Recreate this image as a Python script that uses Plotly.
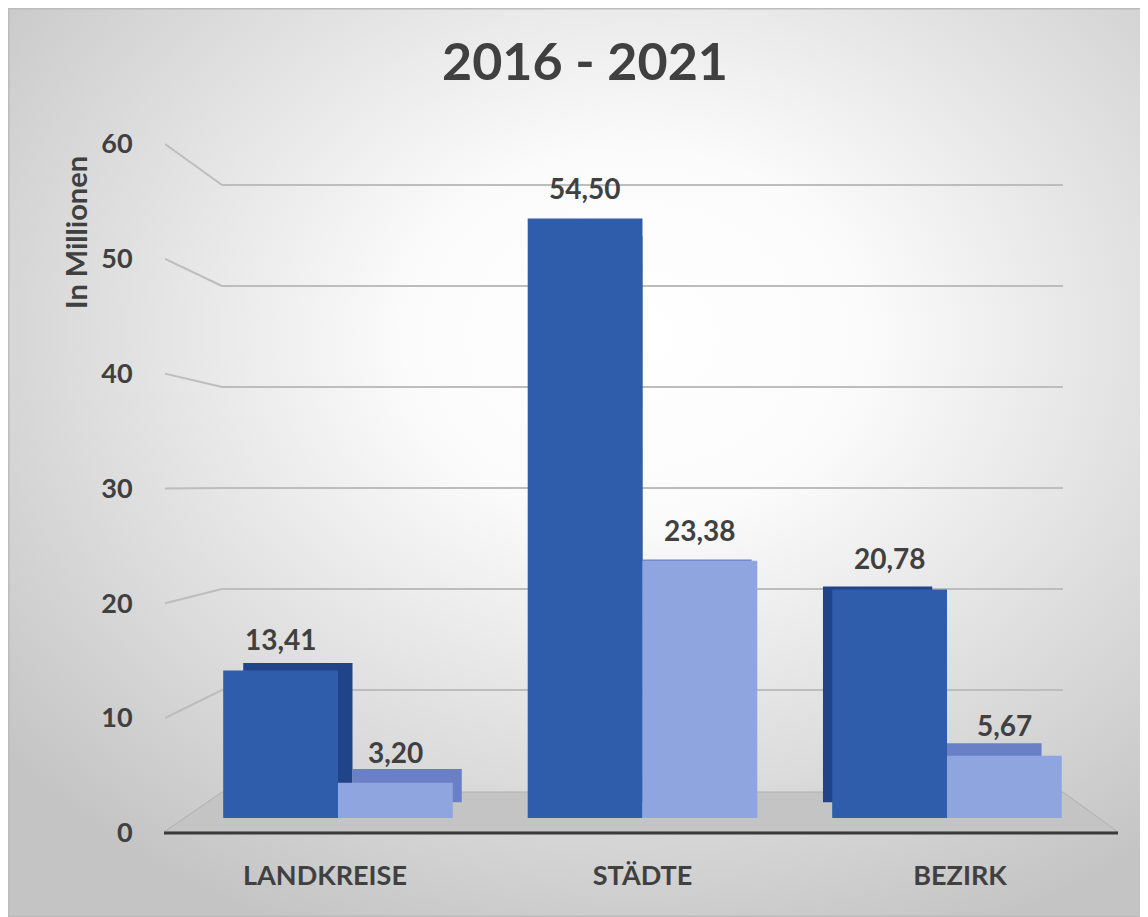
import base64
import plotly.graph_objects as go

# ---------------- data ----------------
CATEGORIES = ["LANDKREISE", "STÄDTE", "BEZIRK"]
SERIES_NAMES = ["Reihe 1", "Reihe 2"]
VALUES_DARK = [13.41, 54.50, 20.78]
VALUES_LIGHT = [3.20, 23.38, 5.67]
Y_TICKS = [0, 10, 20, 30, 40, 50, 60]
TITLE = "2016 - 2021"
Y_TITLE = "In Millionen"

# ---------------- geometry (page pixels) ----------------
OFF = 8                      # page body margin
W, H = 1140, 909             # figure size
PL, PR, PT, PB = 186, 1100, 140, 840          # plot area in page px
FONT = "Lato"
TXT = "#404040"
DARK_FRONT, DARK_BACK = "#2f5cab", "#21438a"
LIGHT_FRONT, LIGHT_BACK = "#8ea5e0", "#6a80c6"
BARGAP = 0.246


def px_x(px):
    return (px - PL) / (PR - PL)


def px_y(py):
    return (PB - py) / (PB - PT)


def val_range(zero_px, ppu):
    return [(zero_px - PB) / ppu, (zero_px - PT) / ppu]


def cat_range(c0_px, ppc):
    return [(PL - c0_px) / ppc, (PR - c0_px) / ppc]


# perspective: back faces scaled around vanishing x
VX, K = 640.0, 0.952
FRONT_C0, FRONT_PPC = 338.0, 304.5
BACK_C0, BACK_PPC = VX + (FRONT_C0 - VX) * K, FRONT_PPC * K
LABEL_C0, LABEL_PPC = 325.0, 317.5

FRONT_Y = (818.0, 11.0)      # zero px, px per unit
BACK_Y = (802.2, 10.38)
TICK_Y = (832.8, 11.48)
WALL_Y = (791.0, 10.1)

fig = go.Figure()

# back (top / side) faces
fig.add_trace(go.Bar(x=CATEGORIES, y=VALUES_DARK, name=SERIES_NAMES[0],
                     marker=dict(color=DARK_BACK, line=dict(width=0)),
                     xaxis="x", yaxis="y", hoverinfo="skip", showlegend=False))
fig.add_trace(go.Bar(x=CATEGORIES, y=VALUES_LIGHT, name=SERIES_NAMES[1],
                     marker=dict(color=LIGHT_BACK, line=dict(width=0)),
                     xaxis="x", yaxis="y", hoverinfo="skip", showlegend=False))
# front faces
fig.add_trace(go.Bar(x=CATEGORIES, y=VALUES_DARK, name=SERIES_NAMES[0],
                     marker=dict(color=DARK_FRONT, line=dict(width=0)),
                     xaxis="x2", yaxis="y2", showlegend=False))
fig.add_trace(go.Bar(x=CATEGORIES, y=VALUES_LIGHT, name=SERIES_NAMES[1],
                     marker=dict(color=LIGHT_FRONT, line=dict(width=0)),
                     xaxis="x2", yaxis="y2", showlegend=False))
# carrier for the labelled axes
fig.add_trace(go.Scatter(x=CATEGORIES, y=VALUES_DARK, mode="markers",
                         marker=dict(opacity=0), xaxis="x3", yaxis="y3",
                         hoverinfo="skip", showlegend=False))

hidden = dict(showgrid=False, zeroline=False, showline=False,
              showticklabels=False, ticks="", fixedrange=True)

fig.update_layout(
    width=W, height=H,
    margin=dict(l=PL - OFF, r=OFF + W - PR, t=PT - OFF, b=OFF + H - PB, pad=0),
    paper_bgcolor="white", plot_bgcolor="rgba(0,0,0,0)",
    barmode="group", bargap=BARGAP, bargroupgap=0,
    font=dict(family=FONT, color=TXT),
    xaxis=dict(type="category", range=cat_range(BACK_C0, BACK_PPC), **hidden),
    yaxis=dict(range=val_range(*BACK_Y), **hidden),
    xaxis2=dict(type="category", overlaying="x", range=cat_range(FRONT_C0, FRONT_PPC), **hidden),
    yaxis2=dict(overlaying="y", range=val_range(*FRONT_Y), **hidden),
    xaxis3=dict(type="category", overlaying="x", range=cat_range(LABEL_C0, LABEL_PPC),
                showgrid=False, zeroline=False, showline=False, fixedrange=True,
                ticks="outside", ticklen=12, tickcolor="rgba(0,0,0,0)",
                tickfont=dict(family=FONT, size=27, color=TXT, weight="bold")),
    yaxis3=dict(overlaying="y", range=val_range(*TICK_Y), tickvals=Y_TICKS,
                showgrid=False, zeroline=False, showline=False, fixedrange=True,
                ticks="outside", ticklen=47, tickcolor="rgba(0,0,0,0)",
                tickfont=dict(family=FONT, size=27, color=TXT, weight="bold")),
    title=dict(text=f"<b>{TITLE}</b>", x=(585 - OFF) / W, xanchor="center", xref="container",
               y=1 - (62 - OFF) / H, yanchor="middle", yref="container",
               font=dict(family=FONT, size=52, color=TXT)),
)

# background radial gradient
svg = (
    '<svg xmlns="http://www.w3.org/2000/svg" width="1140" height="909" '
    'viewBox="0 0 1140 909" preserveAspectRatio="none">'
    '<defs><radialGradient id="g" cx="0.55" cy="0.36" r="0.72">'
    '<stop offset="0" stop-color="#ffffff"/>'
    '<stop offset="0.28" stop-color="#fbfbfb"/>'
    '<stop offset="1" stop-color="#c4c4c4"/>'
    '</radialGradient></defs>'
    '<rect width="1140" height="909" fill="url(#g)"/></svg>'
)
src = "data:image/svg+xml;base64," + base64.b64encode(svg.encode()).decode()
fig.add_layout_image(dict(source=src, xref="paper", yref="paper",
                          x=px_x(OFF), y=px_y(OFF), sizex=W / (PR - PL),
                          sizey=H / (PB - PT), xanchor="left", yanchor="top",
                          sizing="stretch", layer="below"))

shapes = []
# border
shapes.append(dict(type="rect", xref="paper", yref="paper",
                   x0=px_x(OFF + 0.75), x1=px_x(OFF + W - 0.75),
                   y0=px_y(OFF + 0.75), y1=px_y(OFF + H - 0.75),
                   line=dict(color="#bcbcbc", width=1.5), fillcolor="rgba(0,0,0,0)",
                   layer="below"))
# floor
floor = [(222, 792), (1063, 792), (1118, 832), (164, 832)]
path = "M " + " L ".join(f"{px_x(a):.5f},{px_y(b):.5f}" for a, b in floor) + " Z"
shapes.append(dict(type="path", xref="paper", yref="paper", path=path,
                   fillcolor="#c4c4c4", line=dict(color="#b0b0b0", width=1), layer="below"))
shapes.append(dict(type="line", xref="paper", yref="paper",
                   x0=px_x(164), x1=px_x(1118), y0=px_y(833), y1=px_y(833),
                   line=dict(color="#3a3a3a", width=3), layer="below"))
# gridlines on the back wall and slanted connectors to the tick labels
for v in Y_TICKS[1:]:
    yb = WALL_Y[0] - WALL_Y[1] * v
    yf = TICK_Y[0] - TICK_Y[1] * v
    shapes.append(dict(type="line", xref="paper", yref="paper",
                       x0=px_x(222), x1=px_x(1063), y0=px_y(yb), y1=px_y(yb),
                       line=dict(color="#bdbdbd", width=2), layer="below"))
    shapes.append(dict(type="line", xref="paper", yref="paper",
                       x0=px_x(165), x1=px_x(222), y0=px_y(yf), y1=px_y(yb),
                       line=dict(color="#bdbdbd", width=2), layer="below"))
fig.update_layout(shapes=shapes)

# data labels
half = (1 - BARGAP) / 4
annotations = []
for i, (d, l) in enumerate(zip(VALUES_DARK, VALUES_LIGHT)):
    for off, v in ((-half, d), (half, l)):
        annotations.append(dict(x=i + off, y=v, xref="x2", yref="y2",
                                text=f"<b>{v:.2f}</b>".replace(".", ","),
                                showarrow=False, yanchor="middle", yshift=31,
                                font=dict(family=FONT, size=28, color=TXT)))
annotations.append(dict(x=px_x(75), y=px_y(233), xref="paper", yref="paper",
                        text=f"<b>{Y_TITLE}</b>", textangle=-90, showarrow=False,
                        xanchor="center", yanchor="middle",
                        font=dict(family=FONT, size=29, color=TXT)))
fig.update_layout(annotations=annotations)

fig.write_html("out.html")
